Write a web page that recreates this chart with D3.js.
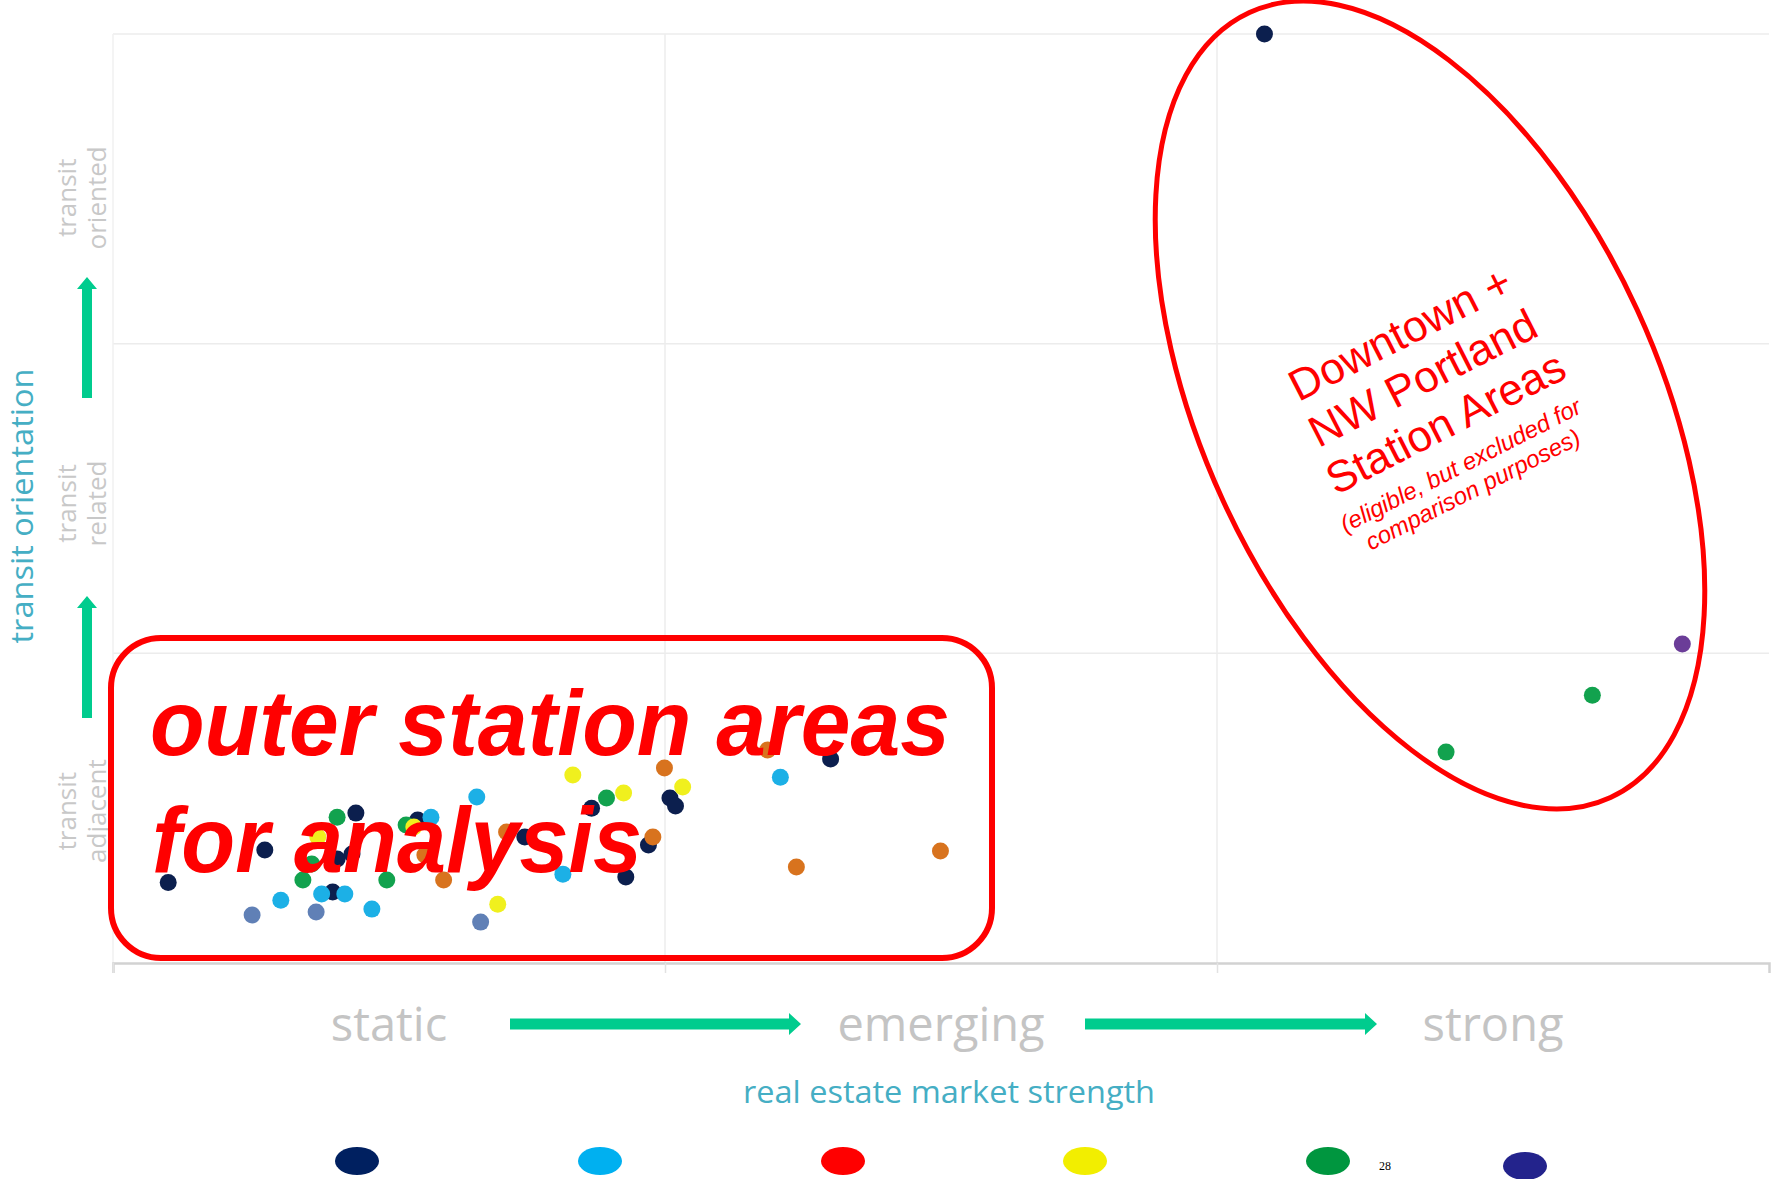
<!DOCTYPE html>
<html>
<head>
<meta charset="utf-8">
<script src="https://cdn.jsdelivr.net/npm/d3@7"></script>
<style>
  html, body { margin: 0; padding: 0; background: #ffffff; }
  svg { display: block; }
</style>
</head>
<body>
<svg id="chart" width="1771" height="1179"></svg>
<script>
// ---------------- DATA ----------------
const xCategories = ["static", "emerging", "strong"];
const yCategories = [["transit", "adjacent"], ["transit", "related"], ["transit", "oriented"]];
const xTitle = "real estate market strength";
const yTitle = "transit orientation";

// station areas: [market strength, transit orientation]
const navyPts = [[0.10,0.26],[0.275,0.365],[0.44,0.484],[0.398,0.229],[0.406,0.336],[0.433,0.352],
  [0.552,0.462],[0.746,0.407],[0.867,0.50],[0.929,0.278],[0.970,0.381],[1.009,0.533],[1.019,0.507],
  [1.30,0.659],[2.086,3.0]];
const cyanPts = [[0.304,0.203],[0.378,0.223],[0.42,0.223],[0.469,0.174],[0.576,0.471],[0.659,0.536],
  [0.815,0.287],[1.209,0.60]];
const slatePts = [[0.252,0.155],[0.368,0.165],[0.666,0.132]];
const greenPts = [[0.406,0.471],[0.36,0.32],[0.344,0.268],[0.496,0.268],[0.531,0.446],[0.894,0.533],
  [2.415,0.681],[2.68,0.865]];
const yellowPts = [[0.371,0.407],[0.545,0.439],[0.697,0.19],[0.833,0.607],[0.925,0.549],[1.032,0.568]];
const orangePts = [[0.565,0.349],[0.599,0.268],[0.713,0.423],[0.978,0.407],[0.999,0.63],[1.186,0.688],
  [1.238,0.31],[1.499,0.362]];
const purplePts = [[2.843,1.03]];

const legendColors = ["#002060", "#00b0f0", "#ff0000", "#f2ee00", "#00963f", "#23238c"];

const boxLines = ["outer station areas", "for analysis"];
const ovalLines = ["Downtown +", "NW Portland", "Station Areas", "(eligible, but excluded for", "comparison purposes)"];
const pageNumber = "28";

// ---------------- CHART ----------------
const svg = d3.select("#chart");
const x = d3.scaleLinear().domain([0, 3]).range([113, 1769]);
const y = d3.scaleLinear().domain([0, 3]).range([963, 34]);

const series = [
  { pts: navyPts, color: "#0c1f4e" },
  { pts: cyanPts, color: "#1cb0e6" },
  { pts: slatePts, color: "#6080b6" },
  { pts: greenPts, color: "#12a24e" },
  { pts: yellowPts, color: "#f0f01e" },
  { pts: orangePts, color: "#d8731e" },
  { pts: purplePts, color: "#6b3d98" }
];

// grid
const grid = svg.append("g");
grid.selectAll("line.h").data([1, 2, 3]).join("line")
  .attr("x1", x(0)).attr("x2", x(3)).attr("y1", d => y(d)).attr("y2", d => y(d))
  .attr("stroke", "#ececec").attr("stroke-width", 1.5);
grid.selectAll("line.v").data([0, 1, 2]).join("line")
  .attr("x1", d => x(d)).attr("x2", d => x(d)).attr("y1", y(3)).attr("y2", y(0))
  .attr("stroke", d => d === 0 ? "#f0f0f0" : "#ececec").attr("stroke-width", 1.5);

// x axis
const xAxis = d3.axisBottom(x).tickValues([0, 1, 2]).tickSize(10).tickFormat("");
const gx = svg.append("g").attr("transform", `translate(0,${y(0)})`).call(xAxis);
gx.select(".domain").attr("stroke", "#d2d2d2").attr("stroke-width", 2.5);
gx.selectAll(".tick line").attr("stroke", "#e2e2e2").attr("stroke-width", 1.5);

// dots
series.forEach(s => {
  svg.append("g").selectAll("circle").data(s.pts).join("circle")
    .attr("cx", d => x(d[0])).attr("cy", d => y(d[1])).attr("r", 8.5)
    .attr("fill", s.color);
});

// x category labels
svg.append("g").selectAll("text").data(xCategories).join("text")
  .attr("x", (d, i) => x(i + 0.5)).attr("y", 1041)
  .attr("text-anchor", "middle")
  .attr("font-family", "'Open Sans', sans-serif").attr("font-size", 47)
  .attr("fill", "#c4c4c4").text(d => d);

// green arrows (horizontal)
function hArrow(x0, x1, yc) {
  const t = 5.5, hl = 12, hw = 11;
  svg.append("path")
    .attr("d", `M${x0},${yc - t}L${x1 - hl},${yc - t}L${x1 - hl},${yc - hw}L${x1},${yc}L${x1 - hl},${yc + hw}L${x1 - hl},${yc + t}L${x0},${yc + t}Z`)
    .attr("fill", "#00cc8e");
}
hArrow(510, 801, 1024);
hArrow(1085, 1377, 1024);

function vArrow(xc, y0, y1) {
  const t = 5, hl = 12, hw = 10;
  svg.append("path")
    .attr("d", `M${xc - t},${y0}L${xc - t},${y1 + hl}L${xc - hw},${y1 + hl}L${xc},${y1}L${xc + hw},${y1 + hl}L${xc + t},${y1 + hl}L${xc + t},${y0}Z`)
    .attr("fill", "#00cc8e");
}
vArrow(87, 398, 277);
vArrow(87, 718, 596);

// x title
svg.append("text").attr("x", 949).attr("y", 1103).attr("text-anchor", "middle")
  .attr("font-family", "'Open Sans', sans-serif").attr("font-size", 31)
  .attr("textLength", 412).attr("lengthAdjust", "spacingAndGlyphs")
  .attr("fill", "#45aec4").text(xTitle);

// y title
svg.append("text").attr("transform", "translate(33,506) rotate(-90)").attr("text-anchor", "middle")
  .attr("font-family", "'Open Sans', sans-serif").attr("font-size", 31)
  .attr("textLength", 275).attr("lengthAdjust", "spacingAndGlyphs")
  .attr("fill", "#45aec4").text(yTitle);

// y category labels
const yl = svg.append("g");
const yLabelShift = [3, 5, 9];
yCategories.forEach((lines, i) => {
  const t = yl.append("text")
    .attr("transform", `translate(0,${y(i + 0.5) + yLabelShift[i]}) rotate(-90)`)
    .attr("text-anchor", "middle")
    .attr("font-family", "'Open Sans', sans-serif").attr("font-size", 26)
    .attr("fill", "#c8c8c8");
  t.append("tspan").attr("x", 0).attr("y", 76).text(lines[0]);
  t.append("tspan").attr("x", 0).attr("y", 106).text(lines[1]);
});

// red rounded box
svg.append("rect").attr("x", 111).attr("y", 638).attr("width", 881).attr("height", 320)
  .attr("rx", 50).attr("ry", 50)
  .attr("fill", "none").attr("stroke", "#ff0000").attr("stroke-width", 6);

const boxText = svg.append("g")
  .attr("font-family", "'Liberation Sans', Arial, sans-serif")
  .attr("font-weight", "bold").attr("font-style", "italic")
  .attr("font-size", 92).attr("fill", "#ff0000");
boxText.append("text").attr("x", 150).attr("y", 755)
  .attr("textLength", 800).attr("lengthAdjust", "spacingAndGlyphs").text(boxLines[0]);
boxText.append("text").attr("x", 152).attr("y", 872)
  .attr("textLength", 490).attr("lengthAdjust", "spacingAndGlyphs").text(boxLines[1]);

// red oval
svg.append("ellipse").attr("cx", 0).attr("cy", 0).attr("rx", 432).attr("ry", 228)
  .attr("transform", "translate(1430,405) rotate(65.3)")
  .attr("fill", "none").attr("stroke", "#ff0000").attr("stroke-width", 5);

const ov = svg.append("g").attr("transform", "translate(1407,347) rotate(-27)")
  .attr("font-family", "'Liberation Sans', Arial, sans-serif")
  .attr("fill", "#ff0000").attr("text-anchor", "middle");
const ovOffsets = [0, 50, 100, 138, 165];
const ovShiftX = [0, 0, 0, -6, -6];
const ovSizes = [44, 44, 44, 24, 24];
ovalLines.forEach((l, i) => {
  ov.append("text").attr("x", ovShiftX[i]).attr("y", ovOffsets[i])
    .attr("font-size", ovSizes[i])
    .attr("font-style", i >= 3 ? "italic" : "normal")
    .text(l);
});

// legend
svg.append("g").selectAll("ellipse").data(legendColors).join("ellipse")
  .attr("cx", (d, i) => [357, 600, 843, 1085, 1328, 1525][i])
  .attr("cy", (d, i) => i === 5 ? 1166 : 1161)
  .attr("rx", 22).attr("ry", 14)
  .attr("fill", d => d);

svg.append("text").attr("x", 1385).attr("y", 1170).attr("text-anchor", "middle")
  .attr("font-family", "'Liberation Serif', serif").attr("font-size", 12)
  .attr("fill", "#000").text(pageNumber);
</script>
</body>
</html>
